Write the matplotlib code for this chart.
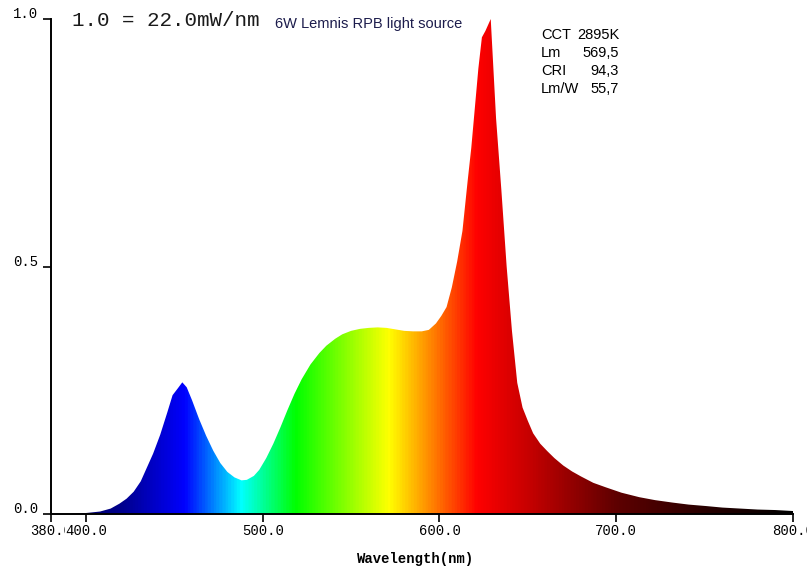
import numpy as np
import matplotlib
matplotlib.use("Agg")
import matplotlib.pyplot as plt
from matplotlib.colors import LinearSegmentedColormap, Normalize
from matplotlib.transforms import ScaledTranslation

# Relative spectral power of the lamp (1.0 = 22.0 mW/nm)
wavelength = [380, 390, 400, 408, 414, 419, 423, 427, 431, 434, 438, 442, 446, 449,
              452, 454.5, 457, 460, 464, 468, 472, 476, 480, 484, 488, 491, 495, 498,
              502, 506, 510, 514, 518, 522, 527, 532, 536, 541, 545, 550, 555, 560,
              565, 570, 575, 580, 585, 590, 594, 598, 601, 604, 607, 610, 613, 616,
              618, 620, 622, 624, 626, 629, 632, 635, 638, 641, 644, 647, 650, 653,
              657, 661, 665, 670, 675, 680, 687, 694, 703, 713, 722, 732, 741, 751,
              760, 770, 780, 790, 800]
power = [0.0, 0.0, 0.002, 0.005, 0.011, 0.021, 0.031, 0.045, 0.066, 0.09, 0.122, 0.16,
         0.205, 0.24, 0.254, 0.266, 0.256, 0.23, 0.192, 0.158, 0.128, 0.103, 0.085,
         0.074, 0.068, 0.069, 0.077, 0.089, 0.113, 0.142, 0.175, 0.21, 0.243, 0.272,
         0.302, 0.325, 0.34, 0.354, 0.363, 0.37, 0.374, 0.376, 0.377, 0.376, 0.373,
         0.37, 0.369, 0.369, 0.372, 0.385, 0.40, 0.418, 0.458, 0.51, 0.572, 0.675,
         0.74, 0.82, 0.90, 0.963, 0.976, 1.0, 0.80, 0.655, 0.50, 0.37, 0.265, 0.215,
         0.188, 0.163, 0.142, 0.127, 0.113, 0.098, 0.086, 0.076, 0.063, 0.054, 0.043,
         0.034, 0.028, 0.023, 0.019, 0.016, 0.013, 0.011, 0.009, 0.008, 0.006]

x_ticks = [380, 400, 500, 600, 700, 800]
x_tick_labels = ["380.0", "400.0", "500.0", "600.0", "700.0", "800.0"]
y_ticks = [0.0, 0.5, 1.0]
y_tick_labels = ["0.0", "0.5", "1.0"]

scale_text = "1.0 = 22.0mW/nm"
source_name = "6W Lemnis RPB light source"
metric_names = ["CCT", "Lm", "CRI", "Lm/W"]
metric_values = ["2895K", "569,5", "94,3", "55,7"]
x_label = "Wavelength(nm)"

# Wavelength -> display colour
wl_lo, wl_hi = 380.0, 800.0
stops = [(380, (0.0, 0.0, 0.30)), (420, (0.0, 0.0, 0.56)), (455, (0.0, 0.0, 1.0)),
         (487, (0.0, 1.0, 1.0)), (518, (0.0, 1.0, 0.0)), (571, (1.0, 1.0, 0.0)),
         (621, (1.0, 0.0, 0.0)), (650, (0.78, 0.0, 0.0)), (700, (0.37, 0.0, 0.0)),
         (750, (0.16, 0.0, 0.0)), (800, (0.0, 0.0, 0.0))]
spec_cmap = LinearSegmentedColormap.from_list(
    "spectrum", [((w - wl_lo) / (wl_hi - wl_lo), c) for w, c in stops])

fig = plt.figure(figsize=(8.07, 5.67), dpi=100)
ax = fig.add_axes([50.6 / 807, 1 - 514 / 567, (793 - 50.6) / 807, (514 - 19) / 567])

poly = ax.fill_between(wavelength, power, 0, color="none", lw=0)
grad = np.linspace(wl_lo, wl_hi, 1200)[None, :]
im = ax.imshow(grad, extent=[wl_lo, wl_hi, 0, 1], aspect="auto", cmap=spec_cmap,
               norm=Normalize(wl_lo, wl_hi), interpolation="bilinear", origin="lower")
im.set_clip_path(poly.get_paths()[0], transform=ax.transData)

ax.set_xlim(wl_lo, wl_hi)
ax.set_ylim(0, 1.0)

for side in ("top", "right"):
    ax.spines[side].set_visible(False)
for side in ("left", "bottom"):
    ax.spines[side].set_linewidth(1.4)
    ax.spines[side].set_color("black")

mono = "Liberation Mono"
ax.set_xticks(x_ticks)
ax.set_xticklabels(x_tick_labels, fontfamily=mono, fontsize=10)
ax.set_yticks(y_ticks)
ax.set_yticklabels(y_tick_labels, fontfamily=mono, fontsize=10)
ax.tick_params(axis="both", direction="out", length=6, width=1.2, color="black")
ax.tick_params(axis="x", pad=1)
ax.tick_params(axis="y", pad=3)

for lab in ax.get_xticklabels():
    lab.set_bbox(dict(facecolor="white", edgecolor="none", pad=0))
up = ScaledTranslation(0, 0.065, fig.dpi_scale_trans)
for lab in ax.get_yticklabels():
    lab.set_transform(lab.get_transform() + up)

fig.text(416 / 807, 1 - 559 / 567, x_label, fontfamily=mono, fontsize=10,
         fontweight="bold", ha="center", va="center")

fig.text(72 / 807, 1 - 21 / 567, scale_text, fontfamily=mono, fontsize=15,
         ha="left", va="center", color="#1a1a1a")
fig.text(275 / 807, 1 - 24 / 567, source_name, fontfamily="Liberation Sans",
         fontsize=10.5, ha="left", va="center", color="#1c1c4c")

for i, (name, val) in enumerate(zip(metric_names, metric_values)):
    yy = 1 - (35 + 18 * i) / 567
    fig.text(541 / 807, yy, name, fontfamily="Liberation Sans", fontsize=10.5,
             ha="left", va="center", color="black")
    fig.text(619 / 807, yy, val, fontfamily="Liberation Sans", fontsize=10.5,
             ha="right", va="center", color="black")

fig.savefig("out.png", dpi=100, facecolor="white")
